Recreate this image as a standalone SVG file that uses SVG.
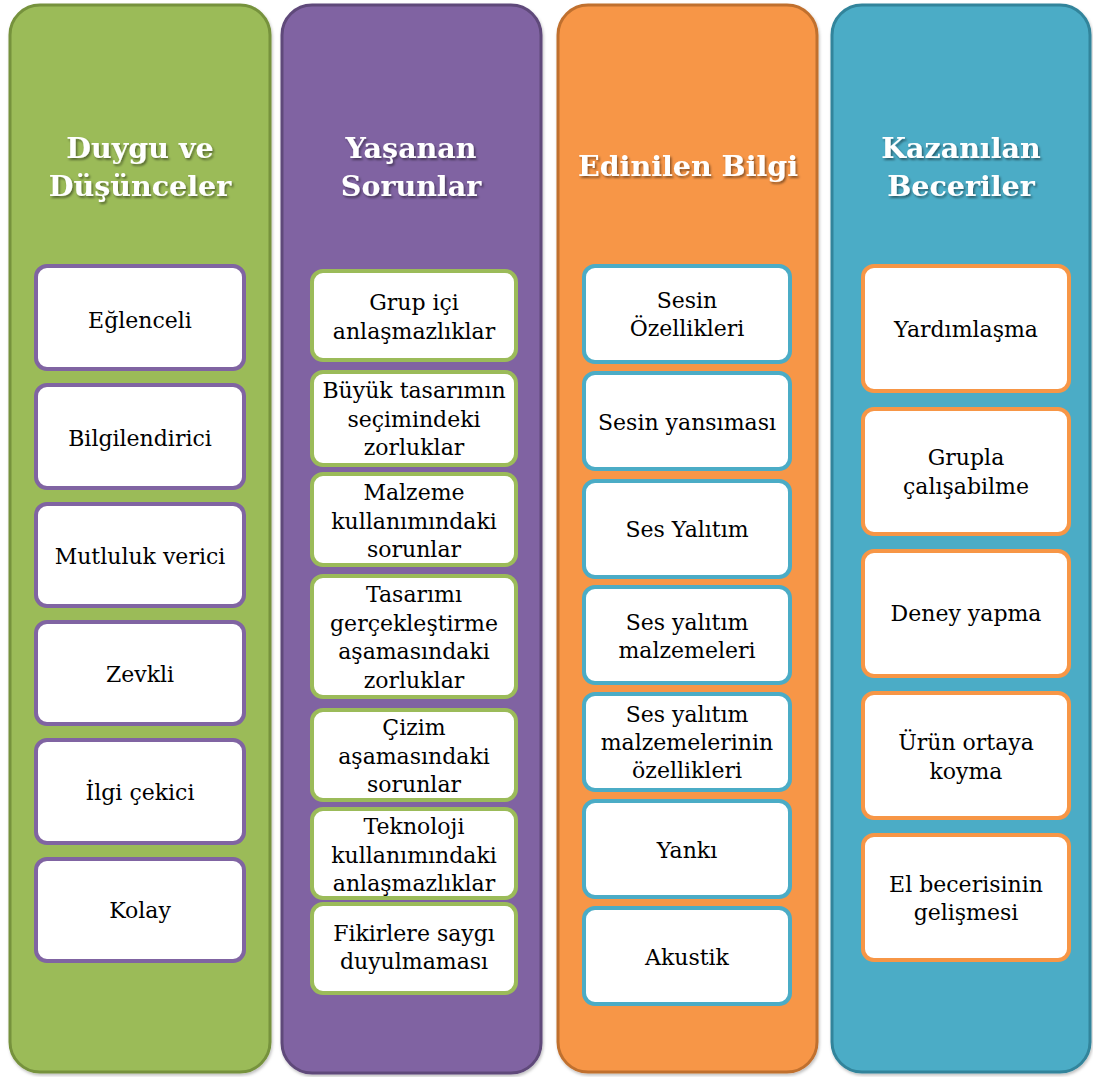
<svg xmlns="http://www.w3.org/2000/svg" width="1093" height="1077" viewBox="0 0 1093 1077">
<defs>
<filter id="ts" x="-10%" y="-10%" width="130%" height="140%">
<feDropShadow dx="1.5" dy="2" stdDeviation="1.2" flood-color="#000" flood-opacity="0.45"/>
</filter>
<filter id="cs" x="-5%" y="-5%" width="110%" height="110%">
<feDropShadow dx="1" dy="2" stdDeviation="1.5" flood-color="#000" flood-opacity="0.25"/>
</filter>
</defs>
<style>
.col{stroke-width:3}
.g{fill:#9BBB59;stroke:#76923C}
.p{fill:#8064A2;stroke:#5F497A}
.o{fill:#F79646;stroke:#C0702F}
.b{fill:#4BACC6;stroke:#31849B}
.hd{font-family:"DejaVu Serif",serif;font-weight:bold;font-size:28.5px;fill:#fff;text-anchor:middle}
.bx{fill:#fff;stroke-width:4}
.bp{stroke:#8064A2}
.bg{stroke:#9BBB59}
.bb{stroke:#4BACC6}
.bo{stroke:#F79646}
.t{font-family:"DejaVu Serif",serif;font-size:22px;fill:#000;text-anchor:middle}
</style>

<g id="col1">
<rect class="col g" x="10" y="5" width="260" height="1067" rx="30" filter="url(#cs)"/>
<g filter="url(#ts)"><text class="hd" x="140" y="158">Duygu ve</text><text class="hd" x="140" y="196">Düşünceler</text></g>
</g>
<g id="col2">
<rect class="col p" x="282" y="5" width="259" height="1068" rx="30" filter="url(#cs)"/>
<g filter="url(#ts)"><text class="hd" x="411" y="158">Yaşanan</text><text class="hd" x="411" y="196">Sorunlar</text></g>
</g>
<g id="col3">
<rect class="col o" x="558" y="5" width="259" height="1067" rx="30" filter="url(#cs)"/>
<g filter="url(#ts)"><text class="hd" x="688" y="176">Edinilen Bilgi</text></g>
</g>
<g id="col4">
<rect class="col b" x="832" y="5" width="258" height="1067" rx="30" filter="url(#cs)"/>
<g filter="url(#ts)"><text class="hd" x="961" y="158">Kazanılan</text><text class="hd" x="961" y="196">Beceriler</text></g>
</g>

<g id="n-eglenceli"><rect class="bx bp" x="36" y="266" width="208" height="103" rx="11"/><text class="t" x="140" y="328">Eğlenceli</text></g>
<g id="n-bilgilendirici"><rect class="bx bp" x="36" y="385" width="208" height="103" rx="11"/><text class="t" x="140" y="446">Bilgilendirici</text></g>
<g id="n-mutluluk"><rect class="bx bp" x="36" y="504" width="208" height="102" rx="11"/><text class="t" x="140" y="564">Mutluluk verici</text></g>
<g id="n-zevkli"><rect class="bx bp" x="36" y="622" width="208" height="102" rx="11"/><text class="t" x="140" y="682">Zevkli</text></g>
<g id="n-ilgi"><rect class="bx bp" x="36" y="740" width="208" height="103" rx="11"/><text class="t" x="140" y="800">İlgi çekici</text></g>
<g id="n-kolay"><rect class="bx bp" x="36" y="859" width="208" height="102" rx="11"/><text class="t" x="140" y="918">Kolay</text></g>

<g id="n-grup"><rect class="bx bg" x="312" y="271" width="204" height="89" rx="11"/><text class="t" x="414" y="310">Grup içi</text><text class="t" x="414" y="339">anlaşmazlıklar</text></g>
<g id="n-buyuk"><rect class="bx bg" x="312" y="372" width="204" height="93" rx="11"/><text class="t" x="414" y="398">Büyük tasarımın</text><text class="t" x="414" y="427">seçimindeki</text><text class="t" x="414" y="455">zorluklar</text></g>
<g id="n-malzeme"><rect class="bx bg" x="312" y="474" width="204" height="91" rx="11"/><text class="t" x="414" y="500">Malzeme</text><text class="t" x="414" y="529">kullanımındaki</text><text class="t" x="414" y="557">sorunlar</text></g>
<g id="n-tasarimi"><rect class="bx bg" x="312" y="576" width="204" height="121" rx="11"/><text class="t" x="414" y="602">Tasarımı</text><text class="t" x="414" y="631">gerçekleştirme</text><text class="t" x="414" y="659">aşamasındaki</text><text class="t" x="414" y="688">zorluklar</text></g>
<g id="n-cizim"><rect class="bx bg" x="312" y="710" width="204" height="90" rx="11"/><text class="t" x="414" y="735">Çizim</text><text class="t" x="414" y="764">aşamasındaki</text><text class="t" x="414" y="792">sorunlar</text></g>
<g id="n-teknoloji"><rect class="bx bg" x="312" y="809" width="204" height="89" rx="11"/><text class="t" x="414" y="834">Teknoloji</text><text class="t" x="414" y="863">kullanımındaki</text><text class="t" x="414" y="891">anlaşmazlıklar</text></g>
<g id="n-fikirlere"><rect class="bx bg" x="312" y="904" width="204" height="89" rx="11"/><text class="t" x="414" y="941">Fikirlere saygı</text><text class="t" x="414" y="969">duyulmaması</text></g>

<g id="n-sesin-ozellikleri"><rect class="bx bb" x="584" y="266" width="206" height="96" rx="11"/><text class="t" x="687" y="308">Sesin</text><text class="t" x="687" y="336">Özellikleri</text></g>
<g id="n-sesin-yansimasi"><rect class="bx bb" x="584" y="373" width="206" height="96" rx="11"/><text class="t" x="687" y="430">Sesin yansıması</text></g>
<g id="n-ses-yalitim"><rect class="bx bb" x="584" y="481" width="206" height="96" rx="11"/><text class="t" x="687" y="537">Ses Yalıtım</text></g>
<g id="n-ses-yalitim-malz"><rect class="bx bb" x="584" y="587" width="206" height="96" rx="11"/><text class="t" x="687" y="630">Ses yalıtım</text><text class="t" x="687" y="658">malzemeleri</text></g>
<g id="n-ses-yalitim-oz"><rect class="bx bb" x="584" y="694" width="206" height="96" rx="11"/><text class="t" x="687" y="722">Ses yalıtım</text><text class="t" x="687" y="750">malzemelerinin</text><text class="t" x="687" y="778">özellikleri</text></g>
<g id="n-yanki"><rect class="bx bb" x="584" y="801" width="206" height="96" rx="11"/><text class="t" x="687" y="858">Yankı</text></g>
<g id="n-akustik"><rect class="bx bb" x="584" y="908" width="206" height="96" rx="11"/><text class="t" x="687" y="965">Akustik</text></g>

<g id="n-yardimlasma"><rect class="bx bo" x="863" y="266" width="206" height="125" rx="11"/><text class="t" x="966" y="337">Yardımlaşma</text></g>
<g id="n-grupla"><rect class="bx bo" x="863" y="409" width="206" height="125" rx="11"/><text class="t" x="966" y="465">Grupla</text><text class="t" x="966" y="494">çalışabilme</text></g>
<g id="n-deney"><rect class="bx bo" x="863" y="551" width="206" height="125" rx="11"/><text class="t" x="966" y="621">Deney yapma</text></g>
<g id="n-urun"><rect class="bx bo" x="863" y="693" width="206" height="125" rx="11"/><text class="t" x="966" y="750">Ürün ortaya</text><text class="t" x="966" y="779">koyma</text></g>
<g id="n-el"><rect class="bx bo" x="863" y="835" width="206" height="125" rx="11"/><text class="t" x="966" y="892">El becerisinin</text><text class="t" x="966" y="920">gelişmesi</text></g>

<g id="connectors"></g>
</svg>
